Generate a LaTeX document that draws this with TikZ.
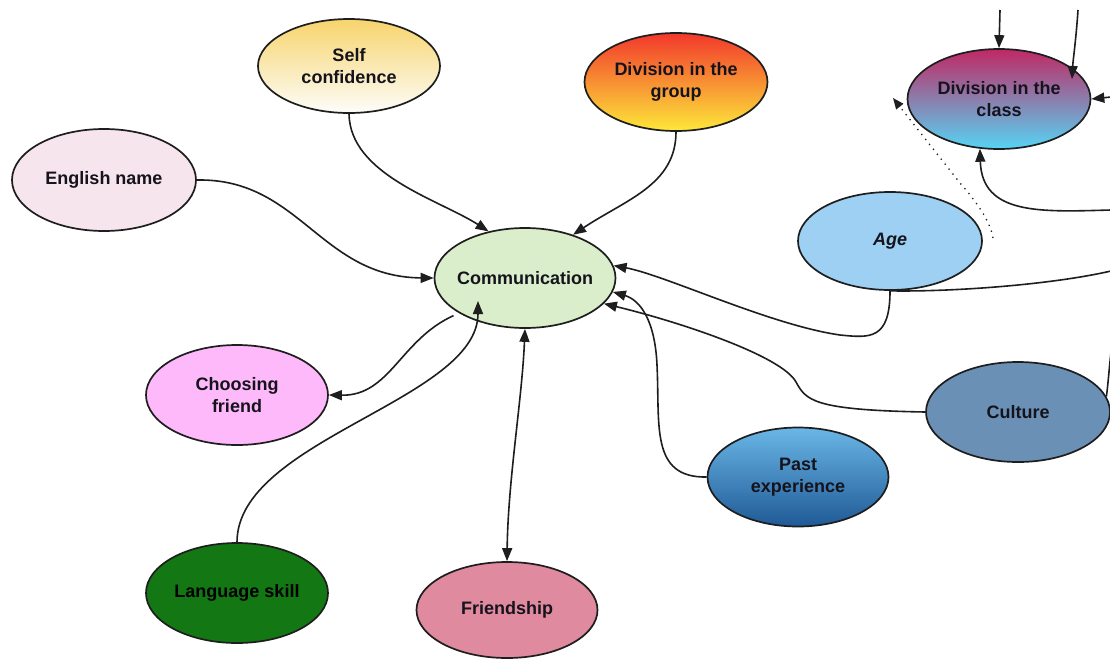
\documentclass[tikz,border=0pt]{standalone}
\usepackage{fontspec}
\setmainfont{Liberation Sans}
\usetikzlibrary{shapes.geometric,arrows.meta,calc}
\definecolor{textdark}{HTML}{15131C}
\definecolor{edgedark}{HTML}{1E1E1E}
\begin{document}
\begin{tikzpicture}[x=1pt,y=-1pt,
  tip/.tip={Triangle[length=13pt,width=10pt]},
  bub/.style={ellipse,draw=edgedark,line width=1.7pt,inner sep=0pt,
    align=center,font=\fontsize{18}{22}\selectfont\bfseries,text=textdark},
  link/.style={draw=edgedark,line width=1.6pt,-tip},
  dlink/.style={draw=edgedark,line width=1.6pt,tip-tip},
  plain/.style={draw=edgedark,line width=1.6pt},
]
\fill[white] (0,0) rectangle (1110,659);
\useasboundingbox (0,0) rectangle (1110,659);

% concept bubbles
\node[bub,minimum width=182pt,minimum height=94pt,top color={rgb,255:red,247;green,212;blue,108},bottom color={rgb,255:red,253;green,253;blue,250}] (self) at (349,66) {Self\\confidence};
\node[bub,minimum width=183pt,minimum height=98pt,top color={rgb,255:red,242;green,56;blue,44},bottom color={rgb,255:red,253;green,232;blue,58}] (group) at (676,82) {Division in the\\group};
\node[bub,minimum width=183pt,minimum height=100pt,top color={rgb,255:red,192;green,40;blue,100},bottom color={rgb,255:red,86;green,212;blue,245}] (cls) at (999,99) {Division in the\\class};
\node[bub,minimum width=184pt,minimum height=102pt,fill={rgb,255:red,246;green,229;blue,236}] (eng) at (104,180) {English name};
\node[bub,minimum width=181pt,minimum height=100pt,inner xsep=-6pt,fill={rgb,255:red,218;green,238;blue,203}] (comm) at (525,278) {Communication};
\node[bub,minimum width=184pt,minimum height=98pt,fill={rgb,255:red,157;green,208;blue,242},font=\fontsize{18}{22}\selectfont\bfseries\itshape] (age) at (890,241) {Age};
\node[bub,minimum width=182pt,minimum height=100pt,fill={rgb,255:red,253;green,185;blue,249}] (choose) at (237,395) {Choosing\\friend};
\node[bub,minimum width=184pt,minimum height=100pt,fill={rgb,255:red,106;green,145;blue,181}] (cult) at (1018,412) {Culture};
\node[bub,minimum width=181pt,minimum height=99pt,top color={rgb,255:red,106;green,182;blue,230},bottom color={rgb,255:red,31;green,90;blue,150}] (past) at (798,477) {Past\\experience};
\node[bub,minimum width=182pt,minimum height=100pt,fill={rgb,255:red,19;green,120;blue,19},text=black] (lang) at (237,593) {Language skill};
\node[bub,minimum width=181pt,minimum height=96pt,fill={rgb,255:red,224;green,138;blue,160}] (friend) at (507,610) {Friendship};

% loose ends of links that continue beyond the frame
\coordinate (topA) at (1000,10);
\coordinate (topB) at (1078,10);
\coordinate (rightC) at (1111,97);
\coordinate (rightD) at (1111,210);
\coordinate (ageout) at (1111,271);
\coordinate (cultout) at (1111,352);
\coordinate (dotend) at (893,98);

% links into Communication
\draw[link] (self.south) .. controls (350,175) and (440,200) .. (comm.128);
\draw[link] (group.south) .. controls (676,185) and (625,200) .. (comm.42);
\draw[link] (eng.east) .. controls (300,178) and (320,277) .. (comm.west);
\draw[link,shorten <=6pt] (comm.208) .. controls (400,340) and (390,396) .. (choose.east);
\draw[link] (lang.north) .. controls (237,440) and (478,400) .. ($(comm.center)+(-47,23)$);
\draw[dlink] (friend.north) .. controls (508,480) and (522,400) .. (comm.south);
\draw[link] (age.south) .. controls (890,340) and (870,338) .. (840,335)
  .. controls (770,325) and (665,275) .. (comm.8);
\draw[link] (past.west) .. controls (650,478) and (660,425) .. (657,365)
  .. controls (655,320) and (640,300) .. (comm.-9);
\draw[link] (cult.west) .. controls (812,410) and (806,400) .. (796,382)
  .. controls (782,356) and (680,322) .. (comm.-18);

% links around Division in the class
\draw[link] (topA) -- (cls.north);
\draw[link] (topB) .. controls (1076,40) and (1073,60) .. ($(cls.center)+(73,-20)$);
\draw[link] (rightC) -- (cls.east);
\draw[link] (rightD) .. controls (1040,212) and (982,215) .. (cls.249);
\draw[plain] (age.south) .. controls (950,292) and (1050,285) .. (ageout);
\draw[plain] (cult.10) .. controls (1108,385) and (1109,370) .. (cultout);
\draw[draw=edgedark,line width=1.3pt,dash pattern=on 1.3pt off 5pt,-{Triangle[length=11pt,width=9pt]}]
  ($(age.center)+(103,-3)$) .. controls (990,220) and (975,200) .. (960,183) -- (dotend);
\end{tikzpicture}
\end{document}
